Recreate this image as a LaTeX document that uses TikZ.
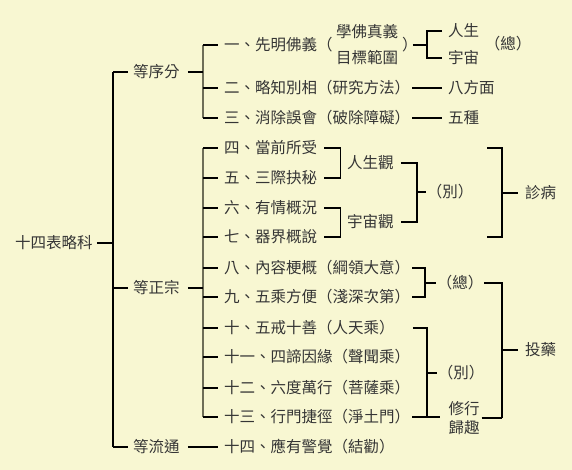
\documentclass[tikz,border=0pt]{standalone}
\usepackage{fontspec}
\newfontfamily\cjk{Noto Sans CJK TC}
\definecolor{bg}{HTML}{F8F7D2}
\definecolor{txt}{HTML}{353535}
\definecolor{gline}{HTML}{6E6E58}
\begin{document}
\begin{tikzpicture}[x=1pt,y=-1pt,
  t/.style={anchor=west,inner sep=0pt,font=\cjk\fontsize{15.5}{20}\selectfont,text=txt},
  tc/.style={t,anchor=center},
  ln/.style={draw=black,line width=1.1pt},
  gl/.style={draw=gline,line width=2pt}]
\fill[bg] (0,0) rectangle (572,470);
\useasboundingbox (0,0) rectangle (572,470);
% spines
\coordinate (X0) at (113,0);
\coordinate (X1) at (203,0);
\coordinate (X2) at (427,0);
\coordinate (X3) at (502,0);
% nodes
\node[t] (root) at (15,243) {十四表略科};
\node[t] (s1) at (133,72) {等序分};
\node[t] (s2) at (133,288) {等正宗};
\node[t] (s3) at (133,447) {等流通};
\node[t] (n1) at (224,45) {一、先明佛義（};
\node[t] (g1) at (336,32) {學佛真義};
\node[t] (g2) at (336,58) {目標範圍};
\node[t] (p1) at (402,45) {）};
\node[t] (h1) at (448,31) {人生};
\node[t] (h2) at (448,58) {宇宙};
\node[tc] (z1) at (508,44) {（總）};
\node[t] (n2) at (224,88) {二、略知別相（研究方法）};
\node[t] (h3) at (448,88) {八方面};
\node[t] (n3) at (224,118) {三、消除誤會（破除障礙）};
\node[t] (h4) at (448,118) {五種};
\node[t] (n4) at (224,148) {四、當前所受};
\node[t] (n5) at (224,178) {五、三際抉秘};
\node[t] (n6) at (224,208) {六、有情概況};
\node[t] (n7) at (224,237) {七、器界概說};
\node[t] (k1) at (347,163) {人生觀};
\node[t] (k2) at (347,222) {宇宙觀};
\node[tc] (z2) at (450,192) {（別）};
\node[t] (d1) at (525,193) {診病};
\node[t] (n8) at (224,268) {八、內容梗概（綱領大意）};
\node[t] (n9) at (224,297) {九、五乘方便（淺深次第）};
\node[tc] (z3) at (460,283) {（總）};
\node[t] (n10) at (224,328) {十、五戒十善（人天乘）};
\node[t] (n11) at (224,357) {十一、四諦因緣（聲聞乘）};
\node[t] (n12) at (224,388) {十二、六度萬行（菩薩乘）};
\node[t] (n13) at (224,417) {十三、行門捷徑（淨土門）};
\node[tc] (z4) at (461,373) {（別）};
\node[tc,align=center] (q) at (464,418) {修行\\[-1pt]歸趣};
\node[t] (d2) at (525,350) {投藥};
\node[t] (n14) at (224,447) {十四、應有警覺（結勸）};
% main spine
\draw[ln] (s1.west -| X0) -- (s3.west -| X0);
\draw[ln] ([xshift=4]root.east) -- (root.east -| X0);
\foreach \s in {s1,s2,s3} \draw[ln] (\s.west -| X0) -- ([xshift=-5]\s.west);
% second level brackets
\draw[gl] (n1.west -| X1) -- (n3.west -| X1);
\draw[gl] (n4.west -| X1) -- (n13.west -| X1);
\draw[ln] ([xshift=8]s1.east) -- (s1.east -| X1);
\draw[ln] ([xshift=8]s2.east) -- (s2.east -| X1);
\draw[ln] ([xshift=8]s3.east) -- ([xshift=-6]n14.west);
\foreach \n in {n1,n2,n3,n4,n5,n6,n7,n8,n9,n10,n11,n12,n13}
  \draw[ln] (\n.west -| X1) -- ([xshift=-6]\n.west);
% row 1
\draw[ln] ([xshift=-5]p1.east) -- (p1.east -| X2);
\draw[ln] ([xshift=-6]h1.west) -- (h1.west -| X2) -- (h2.west -| X2) -- ([xshift=-6]h2.west);
% rows 2,3
\draw[ln] ([xshift=2]n2.east) -- ([xshift=-6]h3.west);
\draw[ln] ([xshift=2]n3.east) -- ([xshift=-6]h4.west);
% rows 4-7
\draw[ln] ([xshift=7]n4.east) -- ([xshift=23]n4.east) -- ([xshift=23]n5.east) -- ([xshift=7]n5.east);
\draw[ln] ([xshift=7]n6.east) -- ([xshift=23]n6.east) -- ([xshift=23]n7.east) -- ([xshift=7]n7.east);
\coordinate (kb) at (417,0);
\draw[ln] ([xshift=7]k1.east) -- (k1.east -| kb) -- (k2.east -| kb) -- ([xshift=7]k2.east);
\draw[ln] (kb |- z2.west) -- ([xshift=-1]z2.west);
\coordinate (d1t) at (487,148);
\coordinate (d1b) at (487,237);
\draw[ln] (d1t) -- (d1t -| X3) -- (d1b -| X3) -- (d1b);
\draw[ln] (d1.west -| X3) -- ([xshift=-7]d1.west);
% rows 8-9
\coordinate (zb) at (425,0);
\draw[ln] ([xshift=2]n8.east) -- (n8.east -| zb) -- (n9.east -| zb) -- ([xshift=2]n9.east);
\draw[ln] (zb |- z3.west) -- ([xshift=-1]z3.west);
\draw[ln] ([xshift=1]z3.east) -- (z3.east -| X3) -- (X3 |- q.east);
\draw[ln] ([xshift=2]q.east) -- (q.east -| X3);
\draw[ln] (d2.west -| X3) -- ([xshift=-7]d2.west);
% rows 10-13
\draw[ln] ([xshift=18]n10.east) -- (n10.east -| X2) -- (n13.east -| X2);
\draw[ln] ([xshift=2]n13.east) -- ([xshift=-8]q.west |- n13.east);
\draw[ln] (X2 |- z4.west) -- ([xshift=-1]z4.west);
\end{tikzpicture}
\end{document}
